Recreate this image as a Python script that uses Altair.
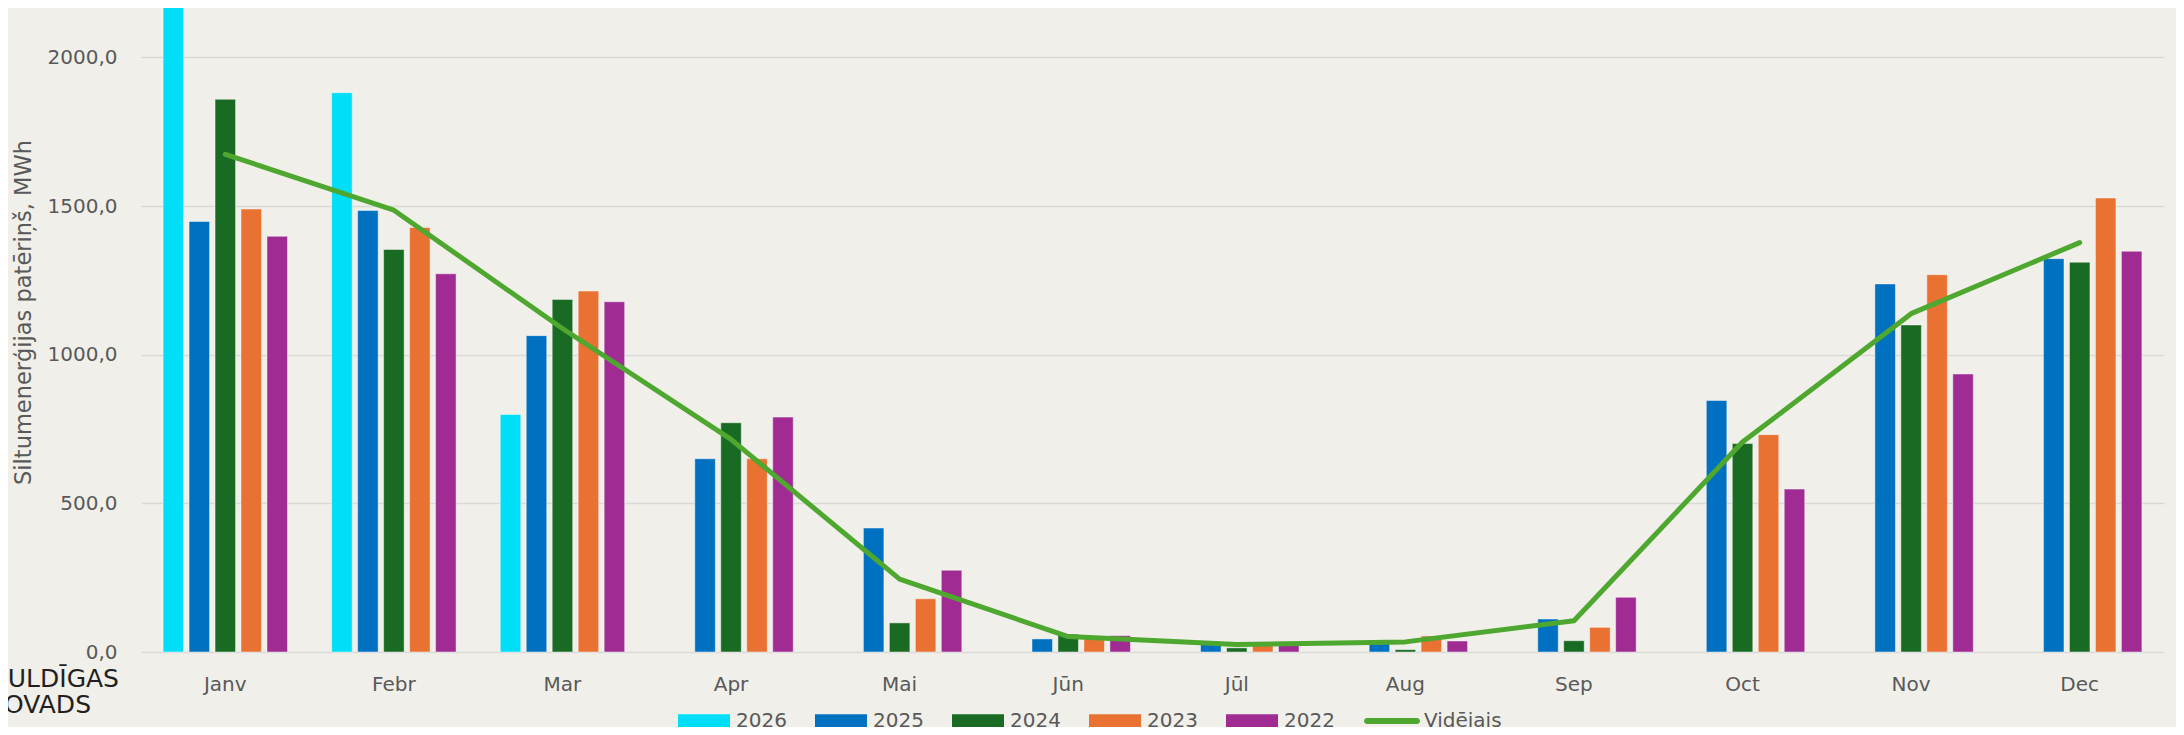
import altair as alt
import pandas as pd

months = ["Janv", "Febr", "Mar", "Apr", "Mai", "Jūn", "Jūl", "Aug", "Sep", "Oct", "Nov", "Dec"]
years = ["2026", "2025", "2024", "2023", "2022"]
series_names = years + ["Vidējais"]

v2026 = [2170, 1881, 799, None, None, None, None, None, None, None, None, None]
v2025 = [1448, 1485, 1064, 650, 417, 44, 30, 28, 111, 846, 1238, 1323]
v2024 = [1859, 1354, 1186, 771, 98, 60, 14, 8, 38, 701, 1100, 1311]
v2023 = [1490, 1428, 1214, 650, 179, 50, 32, 54, 83, 731, 1269, 1527]
v2022 = [1398, 1272, 1178, 790, 275, 55, 22, 37, 184, 548, 935, 1348]
avg = [1674, 1486, 1088, 715, 245, 52, 25, 34, 105, 706, 1138, 1377]

logo_lines = ["ULDĪGAS", "OVADS"]

colors = ["#00DEF8", "#0070C0", "#196B24", "#E97132", "#A02B93", "#4EA72E"]
FONT = "DejaVu Sans"
GRAY = "#595959"

rows = []
for y, vals in zip(years, [v2026, v2025, v2024, v2023, v2022]):
    for m, v in zip(months, vals):
        if v is not None:
            rows.append({"month": m, "series": y, "value": v})
bars_df = pd.DataFrame(rows)
line_df = pd.DataFrame({"month": months, "value": avg})

RECT = "M-1,-0.263H1V0.263H-1Z"
LINE = "M-0.962,-0.115H0.962A0.115,0.115 0 0 1 0.962,0.115H-0.962A0.115,0.115 0 0 1 -0.962,-0.115Z"

y_scale = alt.Scale(domain=[0, 2166], nice=False)
x_enc = alt.X(
    "month:N",
    sort=months,
    scale=alt.Scale(domain=months, paddingInner=0.262, paddingOuter=0.131),
    axis=alt.Axis(
        title=None, labelAngle=0, domain=False, ticks=False, labelPadding=22,
        labelFont=FONT, labelFontSize=20, labelColor=GRAY, grid=False,
    ),
)

bars = alt.Chart(bars_df).mark_bar(stroke="white", strokeWidth=1, strokeOpacity=0.45).encode(
    x=x_enc,
    xOffset=alt.XOffset("series:N", sort=years,
                        scale=alt.Scale(domain=years, paddingInner=0.21, paddingOuter=0)),
    y=alt.Y(
        "value:Q",
        scale=y_scale,
        axis=alt.Axis(
            values=[0, 500, 1000, 1500, 2000],
            labelExpr="replace(format(datum.value, '.1f'), '.', ',')",
            domain=False, ticks=False, labelPadding=24,
            labelFont=FONT, labelFontSize=20, labelColor=GRAY,
            gridColor="#D9D9D9", gridWidth=1.6,
            title="Siltumenerģijas patēriņš, MWh",
            titleFont=FONT, titleFontSize=22.5, titleFontWeight="normal", titleColor=GRAY,
            titleX=-111, titleY=304, titleBaseline="alphabetic", titleAngle=270,
        ),
    ),
    color=alt.Color(
        "series:N",
        scale=alt.Scale(domain=series_names, range=colors),
        legend=alt.Legend(
            title=None, orient="none", direction="horizontal",
            legendX=537, legendY=687, padding=0,
            symbolType={"expr": "datum.value === 'Vidējais' ? '" + LINE + "' : '" + RECT + "'"},
            symbolSize=2704, symbolStrokeWidth=0, symbolOpacity=1,
            labelFont=FONT, labelFontSize=20, labelColor=GRAY,
            labelOffset=6, columnPadding=28,
        ),
    ),
)

line = alt.Chart(line_df).mark_line(
    color="#4EA72E", strokeWidth=5, strokeCap="round", strokeJoin="round"
).encode(
    x=alt.X("month:N", sort=months),
    y=alt.Y("value:Q", scale=y_scale),
)

logo_df = pd.DataFrame({"t": logo_lines, "row": [0, 1]})
logo1 = alt.Chart(logo_df[logo_df.row == 0]).mark_text(
    align="right", baseline="alphabetic", font=FONT, fontSize=25, color="#231F20"
).encode(text="t:N", x=alt.value(-22), y=alt.value(679))
logo2 = alt.Chart(logo_df[logo_df.row == 1]).mark_text(
    align="right", baseline="alphabetic", font=FONT, fontSize=25, color="#231F20"
).encode(text="t:N", x=alt.value(-50), y=alt.value(705))

chart = alt.layer(bars, line, logo1, logo2).properties(
    width=2023, height=644,
    autosize=alt.AutoSizeParams(type="none"),
    padding={"left": 133, "top": 0, "right": 12, "bottom": 75},
    background="#F0EFE9",
).configure_view(stroke=None)

chart.save("out.html", embed_options={"renderer": "svg", "actions": False})
